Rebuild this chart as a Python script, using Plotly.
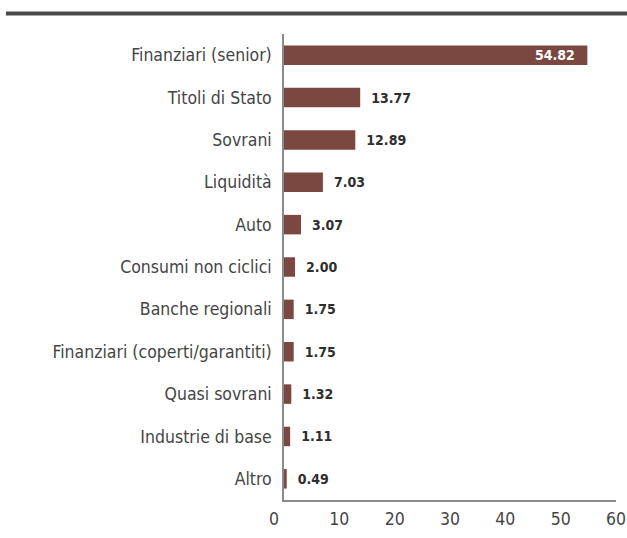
import plotly.graph_objects as go

categories = ["Finanziari (senior)", "Titoli di Stato", "Sovrani", "Liquidità", "Auto",
              "Consumi non ciclici", "Banche regionali", "Finanziari (coperti/garantiti)",
              "Quasi sovrani", "Industrie di base", "Altro"]
values = [54.82, 13.77, 12.89, 7.03, 3.07, 2.00, 1.75, 1.75, 1.32, 1.11, 0.49]
x_ticks = [0, 10, 20, 30, 40, 50, 60]
x_tick_labels = ["0", "10", "20", "30", "40", "50", "60"]

FONT = "DejaVu Sans Condensed, DejaVu Sans, sans-serif"
BAR = "#7B4841"
NB = "\u00a0"

# plot area in pixels
L, R, T, B = 284, 11, 34, 38
W, H = 627, 538
pw, ph = W - L - R, H - T - B

# "0" label sits a little left of the axis origin in the reference
tick_text = [(t + NB * 4) if i == 0 else t for i, t in enumerate(x_tick_labels)]

fig = go.Figure()
fig.add_trace(go.Bar(
    y=categories, x=values, orientation="h",
    marker=dict(color=BAR, line=dict(width=0)),
    width=0.46,
    texttemplate=NB * 2 + "<b>%{x:.2f}</b>",
    textposition=["none"] + ["outside"] * (len(values) - 1),
    textangle=0,
    cliponaxis=False,
    outsidetextfont=dict(color="#2e2e2e", size=14, family=FONT),
    hoverinfo="skip",
))

# value label inside the longest bar
fig.add_annotation(x=values[0], y=categories[0], xref="x", yref="y",
                   text="<b>%.2f</b>" % values[0], showarrow=False,
                   xanchor="right", xshift=-10,
                   font=dict(color="white", size=14, family=FONT))

# heavy rule at top
fig.add_shape(type="line", xref="paper", yref="paper",
              x0=(6 - L) / pw, x1=(W - L) / pw,
              y0=1 + (T - 13.5) / ph, y1=1 + (T - 13.5) / ph,
              line=dict(color="#4a4a4a", width=4))

fig.update_layout(
    width=W, height=H,
    margin=dict(l=L, r=R, t=T, b=B, autoexpand=False),
    paper_bgcolor="white", plot_bgcolor="white",
    showlegend=False,
    font=dict(family=FONT, color="#454545", size=17.5),
    bargap=0.54,
)
fig.update_xaxes(range=[0, 60], tickvals=x_ticks, ticktext=tick_text,
                 showgrid=False, zeroline=False, automargin=False,
                 showline=True, linecolor="#8a8a8a", linewidth=1.5,
                 ticks="", ticklabelstandoff=2,
                 tickfont=dict(size=17.5, color="#454545"))
fig.update_yaxes(categoryorder="array", categoryarray=categories[::-1],
                 showgrid=False, zeroline=False, automargin=False,
                 showline=True, linecolor="#8a8a8a", linewidth=1.5,
                 ticks="outside", ticklen=7, tickcolor="rgba(0,0,0,0)",
                 tickfont=dict(size=17.5, color="#454545"))

fig.write_html("out.html", config={"displayModeBar": False},
               post_script="document.body.style.margin='0';")
